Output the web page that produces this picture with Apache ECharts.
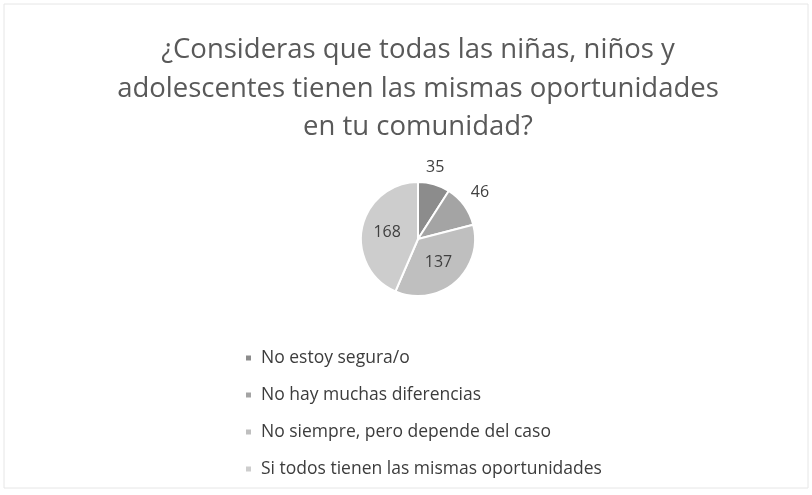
<!DOCTYPE html>
<html>
<head>
<meta charset="utf-8">
<script src="https://cdn.jsdelivr.net/npm/echarts@6/dist/echarts.min.js"></script>
<style>html,body{margin:0;padding:0;background:#fff}#c{width:812px;height:495px}</style>
</head>
<body>
<div id="c"></div>
<script>
const titleText = '¿Consideras que todas las niñas, niños y\nadolescentes tienen las mismas oportunidades\nen tu comunidad?';
const categories = ['No estoy segura/o', 'No hay muchas diferencias', 'No siempre, pero depende del caso', 'Si todos tienen las mismas oportunidades'];
const values = [35, 46, 137, 168];
const colors = ['#8c8c8c', '#a4a4a4', '#bfbfbf', '#cdcdcd'];
const labelInside = [false, false, true, true];

const chart = echarts.init(document.getElementById('c'));
chart.setOption({
  backgroundColor: '#ffffff',
  animation: false,
  legend: {
    orient: 'vertical',
    left: 239,
    top: 344,
    itemGap: 19,
    itemWidth: 7,
    itemHeight: 7,
    icon: 'rect',
    textStyle: { fontFamily: 'Open Sans', fontSize: 17.5, color: '#3c3c3c', padding: [0, 0, 0, 4] },
    data: categories
  },
  graphic: [{
    type: 'rect', shape: { x: 4, y: 4, width: 804, height: 484 },
    style: { fill: 'none', stroke: '#e6e6e6', lineWidth: 1 }, silent: true
  }, {
    type: 'text', x: 418, y: 31, silent: true,
    style: {
      text: titleText, align: 'center', verticalAlign: 'top',
      fontFamily: 'Open Sans', fontSize: 27.5, lineHeight: 38.5, fill: '#595959'
    }
  }],
  series: [{
    type: 'pie',
    center: [418, 239],
    radius: [0, 57],
    startAngle: 90,
    clockwise: true,
    avoidLabelOverlap: false,
    itemStyle: { borderColor: '#ffffff', borderWidth: 2 },
    labelLine: { show: false, length: 18, length2: 0 },
    data: categories.map((c, i) => ({
      name: c,
      value: values[i],
      itemStyle: { color: colors[i] },
      labelLine: { show: false, length: i === 1 ? 23 : 18, length2: 0 },
      label: {
        show: true,
        position: labelInside[i] ? 'inside' : 'outside',
        distanceToLabelLine: i === 1 ? -12 : -13,
        formatter: '{c}',
        fontFamily: 'Open Sans',
        fontSize: 16,
        color: '#404040'
      }
    }))
  }]
});
</script>
</body>
</html>
